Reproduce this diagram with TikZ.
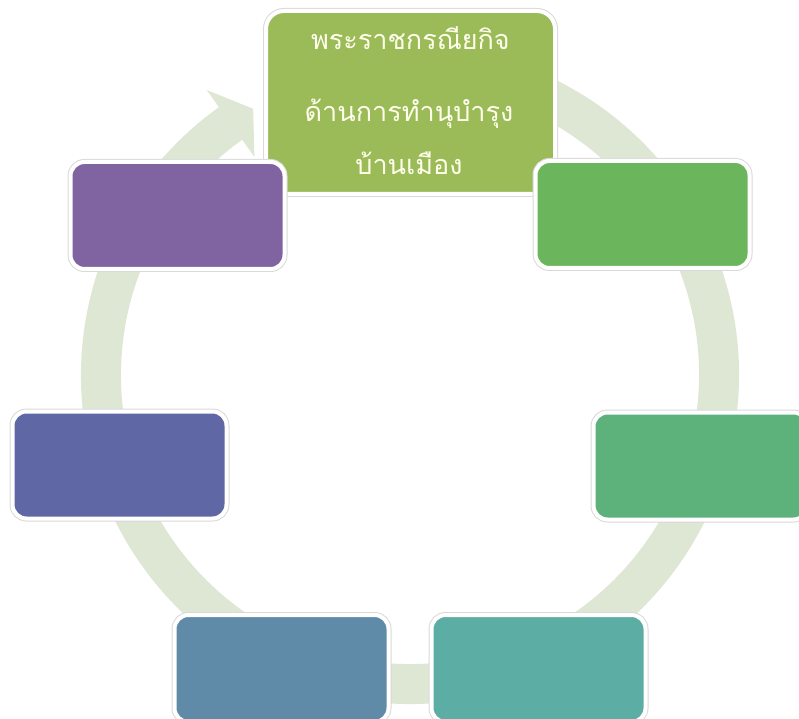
\documentclass[tikz,border=0pt]{standalone}
\usepackage{fontspec}
\newfontfamily\thaifont[Script=Thai]{Loma}
\usetikzlibrary{calc}
\definecolor{ringcol}{RGB}{222,231,211}
\definecolor{c1}{RGB}{155,187,89}
\definecolor{c2}{RGB}{107,181,92}
\definecolor{c3}{RGB}{93,178,124}
\definecolor{c4}{RGB}{92,174,164}
\definecolor{c5}{RGB}{95,138,168}
\definecolor{c6}{RGB}{96,103,165}
\definecolor{c7}{RGB}{128,100,162}

\begin{document}
\begin{tikzpicture}[x=1pt,y=1pt,
    main node/.style={rounded corners=14pt,draw=white,line width=4pt,inner sep=0pt,
        minimum width=214pt,minimum height=107pt,preaction={draw=black!15,line width=6pt}},
    title text/.style={anchor=base,inner sep=0pt,text=white!92!yellow,font=\thaifont\fontsize{27}{30}\selectfont}]

            \useasboundingbox (0,0) rectangle (799,718);
            \coordinate (c) at (410,343);

            % ring with arrow head
            \draw[ringcol, line width=40pt] ($(c)+(80:309)$) arc[start angle=80, end angle=-235, radius=309pt];
            \fill[ringcol] ($(c)+(125.5:350)$) -- ($(c)+(120.5:309)$) -- ($(c)+(125.5:268)$) -- cycle;

            \node[main node, fill=c1, rounded corners=18pt, minimum width=289pt, minimum height=183pt] (1) at (410.5,615.5) {};
            \node[main node, fill=c2] (2) at (642.5,503.5) {};
            \node[main node, fill=c3] (3) at (700.5,252) {};
            \node[main node, fill=c4] (4) at (538.5,49.5) {};
            \node[main node, fill=c5] (5) at (281.5,49.5) {};
            \node[main node, fill=c6] (6) at (119.5,253) {};
            \node[main node, fill=c7] (7) at (177.5,502.5) {};

            \node[title text] (1a) at (410.5,668) {พระราชกรณียกิจ};
            \node[title text] (1b) at (409,596) {ด้านการทำนุบำรุง};
            \node[title text] (1c) at (409,543) {บ้านเมือง};
        \end{tikzpicture}
\end{document}
